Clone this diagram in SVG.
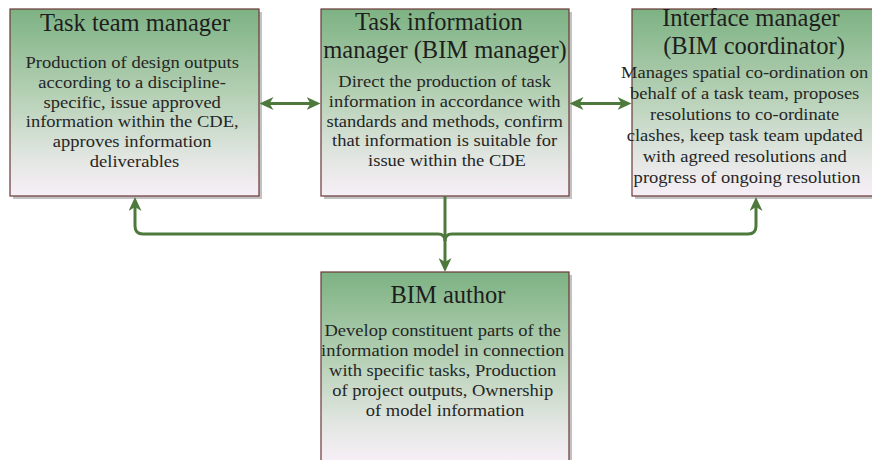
<svg xmlns="http://www.w3.org/2000/svg" width="872" height="460" viewBox="0 0 872 460">
  <style>
    .box { fill: url(#boxFill); stroke: #6a3838; stroke-width: 1.2; }
    .shadow { fill: #c2c2c2; }
    .title { font-family: "Liberation Serif", "Times New Roman", serif; font-size: 24.5px; fill: #1e1e1e; text-anchor: middle; }
    .body { font-family: "Liberation Serif", "Times New Roman", serif; font-size: 17px; fill: #262626; text-anchor: middle; }
    .link { fill: none; stroke: #4d7a3c; stroke-width: 3; }
  </style>
  <defs>
    <linearGradient id="boxFill" x1="0" y1="0" x2="0" y2="1">
      <stop offset="0" stop-color="#7db283"/>
      <stop offset="0.45" stop-color="#b4d0b4"/>
      <stop offset="0.8" stop-color="#e2e6e2"/>
      <stop offset="1" stop-color="#f7eff7"/>
    </linearGradient>
    <marker id="head" viewBox="0 0 14 13" markerWidth="14" markerHeight="13" refX="10" refY="6.5" orient="auto-start-reverse" markerUnits="userSpaceOnUse">
      <path d="M0,0 L14,6.5 L0,13 L4,6.5 Z" fill="#4d7a3c"/>
    </marker>
  </defs>

  <rect width="872" height="460" fill="#ffffff"/>

  <!-- Task team manager -->
  <g id="task-team-manager">
    <rect class="shadow" x="13" y="12" width="249" height="187"/>
    <rect class="box" x="10" y="9" width="249" height="187"/>
    <text class="title" x="135" y="31">Task team manager</text>
    <text class="body" transform="translate(134.5 0) scale(1.09 1)">
      <tspan x="0" y="68">Production of design outputs</tspan>
      <tspan x="0" y="87.8">according to a discipline-</tspan>
      <tspan x="0" y="107.6">specific, issue approved</tspan>
      <tspan x="0" y="127.4">information within the CDE,</tspan>
      <tspan x="0" y="147.2">approves information</tspan>
      <tspan x="0" y="167">deliverables</tspan>
    </text>
  </g>

  <!-- Task information manager -->
  <g id="task-information-manager">
    <rect class="shadow" x="324" y="12" width="248" height="187"/>
    <rect class="box" x="321" y="9" width="248" height="187"/>
    <text class="title">
      <tspan x="442" y="30">Task information</tspan>
      <tspan x="445" y="58">manager (BIM manager)</tspan>
    </text>
    <text class="body" transform="translate(447 0) scale(1.09 1)">
      <tspan x="0" y="87">Direct the production of task</tspan>
      <tspan x="0" y="106.8">information in accordance with</tspan>
      <tspan x="0" y="126.6">standards and methods, confirm</tspan>
      <tspan x="0" y="146.4">that information is suitable for</tspan>
      <tspan x="0" y="166.2">issue within the CDE</tspan>
    </text>
  </g>

  <!-- Interface manager -->
  <g id="interface-manager">
    <rect class="shadow" x="635" y="12" width="248" height="187"/>
    <rect class="box" x="632" y="9" width="248" height="187"/>
    <text class="title">
      <tspan x="754" y="26">Interface manager</tspan>
      <tspan x="754" y="54">(BIM coordinator)</tspan>
    </text>
    <text class="body" transform="translate(747 0) scale(1.09 1)">
      <tspan x="0" y="78">Manages spatial co-ordination on</tspan>
      <tspan x="0" y="99">behalf of a task team, proposes</tspan>
      <tspan x="0" y="120">resolutions to co-ordinate</tspan>
      <tspan x="0" y="141">clashes, keep task team updated</tspan>
      <tspan x="0" y="162">with agreed resolutions and</tspan>
      <tspan x="0" y="183">progress of ongoing resolution</tspan>
    </text>
  </g>

  <!-- BIM author -->
  <g id="bim-author">
    <rect class="shadow" x="324" y="275" width="248" height="190"/>
    <rect class="box" x="321" y="272" width="248" height="190"/>
    <text class="title" x="448" y="303">BIM author</text>
    <text class="body" transform="translate(445 0) scale(1.09 1)">
      <tspan x="0" y="336">Develop constituent parts of the</tspan>
      <tspan x="0" y="356">information model in connection</tspan>
      <tspan x="0" y="376">with specific tasks, Production</tspan>
      <tspan x="0" y="396">of project outputs, Ownership</tspan>
      <tspan x="0" y="416">of model information</tspan>
    </text>
  </g>

  <!-- Connectors -->
  <g id="connectors">
    <path class="link" d="M263.5,103.5 H316.5" marker-start="url(#head)" marker-end="url(#head)"/>
    <path class="link" d="M573.5,103.5 H627.5" marker-start="url(#head)" marker-end="url(#head)"/>
    <path class="link" d="M445,196 V268" marker-end="url(#head)"/>
    <path class="link" d="M135,201 V226 Q135,234 143,234 H438 Q445,234 445,241" marker-start="url(#head)"/>
    <path class="link" d="M756,201 V226 Q756,234 748,234 H452 Q445,234 445,241" marker-start="url(#head)"/>
  </g>
</svg>
